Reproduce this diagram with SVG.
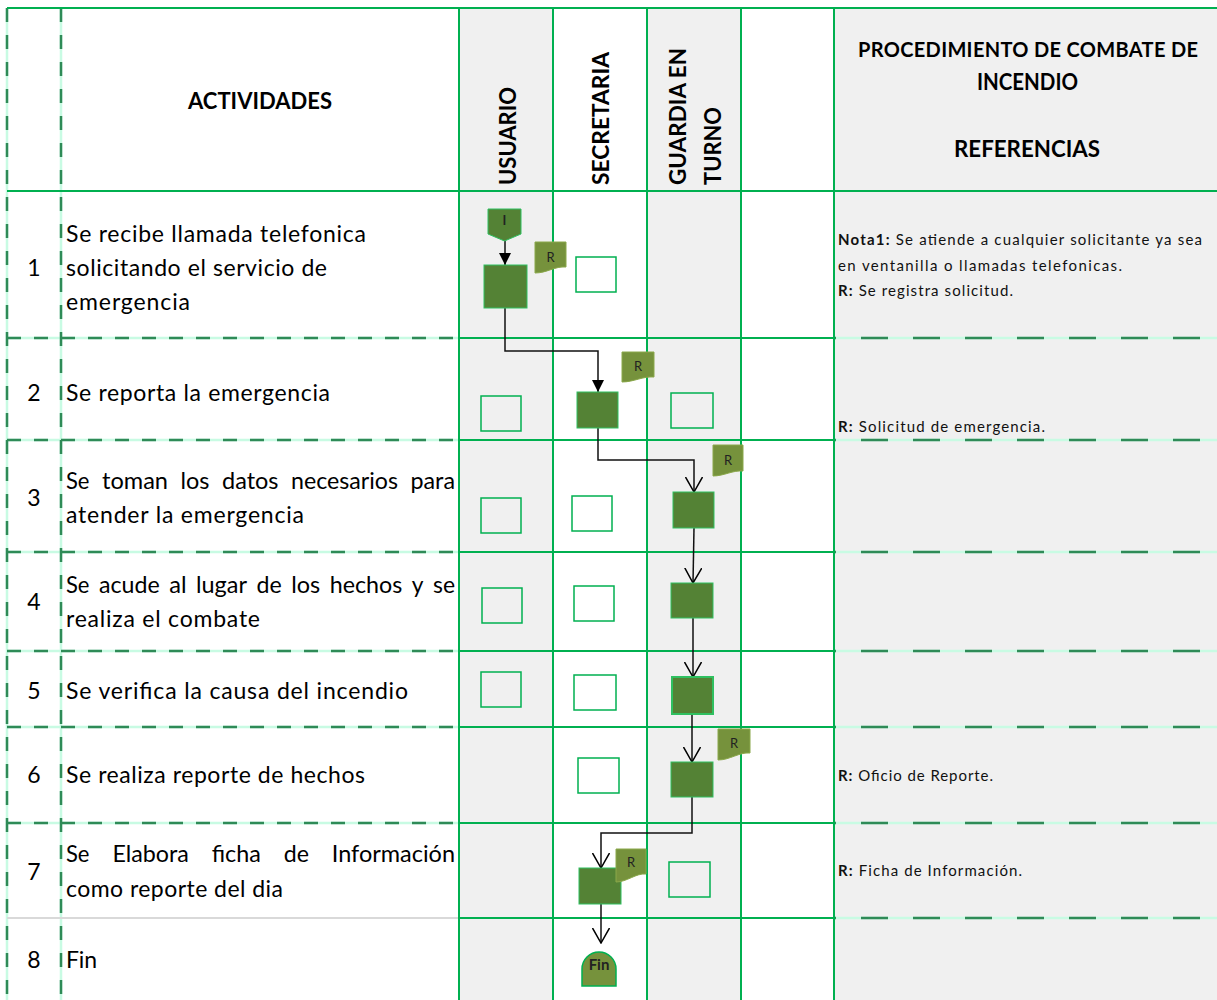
<svg xmlns="http://www.w3.org/2000/svg" width="1217" height="1000" viewBox="0 0 1217 1000">
<defs>
<style>
.g{stroke:#00b050;stroke-width:2;fill:none}
.mint{stroke:#c8fbe3;stroke-width:2.5;fill:none}
.dl{stroke:#2e8b57;stroke-width:2.5;stroke-dasharray:14 13;fill:none}
.dr{stroke:#2e8b57;stroke-width:2.5;stroke-dasharray:27 25;stroke-dashoffset:25;fill:none}
.t{font-family:Lato,"Liberation Sans",sans-serif;font-size:23px;fill:#000}
.h{font-family:Lato,"Liberation Sans",sans-serif;font-size:22.5px;font-weight:bold;fill:#000}
.r{font-family:Lato,"Liberation Sans",sans-serif;font-size:15px;fill:#111}
.b{font-weight:bold}
.proc{fill:#548235;stroke:#2fc060;stroke-width:1}
.empty{fill:none;stroke:#00b050;stroke-width:1.5}
.doc{fill:#76923c;stroke:#8aa84a;stroke-width:1}
.dt{font-family:Lato,"Liberation Sans",sans-serif;font-size:13px;fill:#222;text-anchor:middle}
.c{fill:none;stroke:#111;stroke-width:1.5}
</style>
<marker id="tri" markerUnits="userSpaceOnUse" viewBox="0 0 12 12" refX="12" refY="6" markerWidth="12" markerHeight="12" orient="auto"><path d="M0,0 L12,6 L0,12 Z" fill="#000"/></marker>
<marker id="vee" markerUnits="userSpaceOnUse" viewBox="0 0 16 18" refX="15" refY="9" markerWidth="16" markerHeight="18" orient="auto"><path d="M0,0.5 L15,9 L0,17.5" fill="none" stroke="#000" stroke-width="1.5"/></marker>
</defs>
<rect width="1217" height="1000" fill="#fff"/>
<g id="grid">
<rect x="459" y="8" width="94" height="992" fill="#f0f0f0"/>
<rect x="647" y="8" width="94" height="992" fill="#f0f0f0"/>
<rect x="834" y="8" width="383" height="992" fill="#f0f0f0"/>
<path class="mint" d="M7,338H459M7,440H459M7,552H459M7,651H459M7,727H459M7,823H459M834,338H1217M834,440H1217M834,552H1217M834,651H1217M834,727H1217M834,823H1217M834,918H1217M7,8V1000M61,8V1000"/>
<path class="dl" d="M7,338H459M7,440H459M7,552H459M7,651H459M7,727H459M7,823H459M7,8V1000M61,8V1000"/>
<path class="dr" d="M834,338H1217M834,440H1217M834,552H1217M834,651H1217M834,727H1217M834,823H1217M834,918H1217"/>
<path d="M7,918H459" stroke="#d9d9d9" stroke-width="2" fill="none"/>
<path class="g" d="M7,8H1217M7,191H1217M459,338H834M459,440H834M459,552H834M459,651H834M459,727H834M459,823H834M459,918H834M459,8V1000M553,8V1000M647,8V1000M741,8V1000M834,8V1000"/>
</g>
<g id="headers">
<text class="h" x="188" y="109" textLength="144" lengthAdjust="spacingAndGlyphs">ACTIVIDADES</text>
<text class="h" transform="translate(516,185) rotate(-90)" textLength="98" lengthAdjust="spacingAndGlyphs">USUARIO</text>
<text class="h" transform="translate(609,185) rotate(-90)" textLength="133" lengthAdjust="spacingAndGlyphs">SECRETARIA</text>
<text class="h" transform="translate(686,185) rotate(-90)" textLength="137" lengthAdjust="spacingAndGlyphs">GUARDIA EN</text>
<text class="h" transform="translate(721,185) rotate(-90)" textLength="78" lengthAdjust="spacingAndGlyphs">TURNO</text>
<text class="h" x="858" y="57" style="font-size:20px" textLength="340">PROCEDIMIENTO DE COMBATE DE</text>
<text class="h" x="977" y="90" textLength="101" lengthAdjust="spacingAndGlyphs">INCENDIO</text>
<text class="h" x="954" y="157" textLength="146" lengthAdjust="spacingAndGlyphs">REFERENCIAS</text>
</g>
<g id="activities">
<text class="t" x="34" y="276" text-anchor="middle">1</text>
<text class="t" x="66" y="242" textLength="300">Se recibe llamada telefonica</text>
<text class="t" x="66" y="276" textLength="261">solicitando el servicio de</text>
<text class="t" x="66" y="310" textLength="124">emergencia</text>
<text class="t" x="34" y="401" text-anchor="middle">2</text>
<text class="t" x="66" y="401" textLength="264">Se reporta la emergencia</text>
<text class="t" x="34" y="506" text-anchor="middle">3</text>
<text class="t" x="66" y="489" textLength="23.5" lengthAdjust="spacingAndGlyphs">Se</text>
<text class="t" x="102" y="489" textLength="66" lengthAdjust="spacingAndGlyphs">toman</text>
<text class="t" x="180.5" y="489" textLength="29" lengthAdjust="spacingAndGlyphs">los</text>
<text class="t" x="222" y="489" textLength="56.5" lengthAdjust="spacingAndGlyphs">datos</text>
<text class="t" x="291" y="489" textLength="107" lengthAdjust="spacingAndGlyphs">necesarios</text>
<text class="t" x="410.5" y="489" textLength="44.5" lengthAdjust="spacingAndGlyphs">para</text>
<text class="t" x="66" y="523" textLength="238">atender la emergencia</text>
<text class="t" x="34" y="610" text-anchor="middle">4</text>
<text class="t" x="66" y="593" textLength="23.5" lengthAdjust="spacingAndGlyphs">Se</text>
<text class="t" x="99" y="593" textLength="60.7" lengthAdjust="spacingAndGlyphs">acude</text>
<text class="t" x="169.2" y="593" textLength="17.3" lengthAdjust="spacingAndGlyphs">al</text>
<text class="t" x="196" y="593" textLength="51" lengthAdjust="spacingAndGlyphs">lugar</text>
<text class="t" x="256.5" y="593" textLength="25.2" lengthAdjust="spacingAndGlyphs">de</text>
<text class="t" x="291.2" y="593" textLength="29" lengthAdjust="spacingAndGlyphs">los</text>
<text class="t" x="329.7" y="593" textLength="72.6" lengthAdjust="spacingAndGlyphs">hechos</text>
<text class="t" x="411.8" y="593" textLength="11.7" lengthAdjust="spacingAndGlyphs">y</text>
<text class="t" x="433" y="593" textLength="22" lengthAdjust="spacingAndGlyphs">se</text>
<text class="t" x="66" y="627" textLength="194">realiza el combate</text>
<text class="t" x="34" y="699" text-anchor="middle">5</text>
<text class="t" x="66" y="699" textLength="342">Se verifica la causa del incendio</text>
<text class="t" x="34" y="783" text-anchor="middle">6</text>
<text class="t" x="66" y="783" textLength="299">Se realiza reporte de hechos</text>
<text class="t" x="34" y="880" text-anchor="middle">7</text>
<text class="t" x="66" y="862" textLength="23.5" lengthAdjust="spacingAndGlyphs">Se</text>
<text class="t" x="112.4" y="862" textLength="76.4" lengthAdjust="spacingAndGlyphs">Elabora</text>
<text class="t" x="211.7" y="862" textLength="49.1" lengthAdjust="spacingAndGlyphs">ficha</text>
<text class="t" x="283.7" y="862" textLength="25.2" lengthAdjust="spacingAndGlyphs">de</text>
<text class="t" x="331.8" y="862" textLength="123.2" lengthAdjust="spacingAndGlyphs">Información</text>
<text class="t" x="66" y="897" textLength="217">como reporte del dia</text>
<text class="t" x="34" y="968" text-anchor="middle">8</text>
<text class="t" x="66" y="968" textLength="31">Fin</text>
</g>
<g id="references">
<text class="r" x="838" y="245" textLength="364"><tspan class="b">Nota1:</tspan> Se atiende a cualquier solicitante ya sea</text>
<text class="r" x="838" y="271" textLength="284">en ventanilla o llamadas telefonicas.</text>
<text class="r" x="838" y="296" textLength="175"><tspan class="b">R:</tspan> Se registra solicitud.</text>
<text class="r" x="838" y="432" textLength="207"><tspan class="b">R:</tspan> Solicitud de emergencia.</text>
<text class="r" x="838" y="781" textLength="155"><tspan class="b">R:</tspan> Oficio de Reporte.</text>
<text class="r" x="838" y="876" textLength="184"><tspan class="b">R:</tspan> Ficha de Información.</text>
</g>
<g id="connectors">
<path class="c" d="M505,241V265" marker-end="url(#tri)"/>
<path class="c" d="M505,308V351H598V392" marker-end="url(#tri)"/>
<path class="c" d="M598,428V460H694V492" marker-end="url(#vee)"/>
<path class="c" d="M694,528L693,583" marker-end="url(#vee)"/>
<path class="c" d="M693,618V677" marker-end="url(#vee)"/>
<path class="c" d="M692,714V762" marker-end="url(#vee)"/>
<path class="c" d="M692,797V833H601V868" marker-end="url(#vee)"/>
<path class="c" d="M601,904V943" marker-end="url(#vee)"/>
</g>
<g id="start">
<path class="proc" d="M488,209H521V234L504.5,241L488,234Z"/>
<text class="dt b" x="504.5" y="225">I</text>
</g>
<g id="n1"><rect class="proc" x="484" y="265" width="43" height="43"/></g>
<g id="n2"><rect class="proc" x="577" y="392" width="41" height="36"/></g>
<g id="n3"><rect class="proc" x="673" y="492" width="41" height="36"/></g>
<g id="n4"><rect class="proc" x="671" y="583" width="42" height="35"/></g>
<g id="n5"><rect class="proc" x="672" y="677" width="41" height="37" style="stroke-width:2"/></g>
<g id="n6"><rect class="proc" x="671" y="762" width="42" height="35"/></g>
<g id="n7"><rect class="proc" x="579" y="868" width="42" height="36"/></g>
<g id="empties">
<rect class="empty" x="576" y="257" width="40" height="35"/>
<rect class="empty" x="481" y="396" width="40" height="35"/>
<rect class="empty" x="671" y="393" width="42" height="35"/>
<rect class="empty" x="481" y="498" width="40" height="35"/>
<rect class="empty" x="572" y="496" width="40" height="35"/>
<rect class="empty" x="482" y="588" width="40" height="35"/>
<rect class="empty" x="574" y="586" width="40" height="35"/>
<rect class="empty" x="481" y="672" width="40" height="35"/>
<rect class="empty" x="574" y="675" width="42" height="35"/>
<rect class="empty" x="578" y="758" width="41" height="35"/>
<rect class="empty" x="669" y="862" width="41" height="35"/>
</g>
<g id="r1"><path class="doc" d="M535,242H566V267C555,266 547,273 535,273Z"/><text class="dt" x="550.5" y="262">R</text></g>
<g id="r2"><path class="doc" d="M622,352H654V377C643,376 634,382 622,382Z"/><text class="dt" x="638" y="371">R</text></g>
<g id="r3"><path class="doc" d="M713,445H743V471C733,470 724,476 713,476Z"/><text class="dt" x="728" y="465">R</text></g>
<g id="r6"><path class="doc" d="M718,729H750V753C739,752 730,760 718,760Z"/><text class="dt" x="734" y="748">R</text></g>
<g id="r7"><path class="doc" d="M616,849H646V874C636,873 627,882 616,882Z"/><text class="dt" x="631" y="867">R</text></g>
<g id="fin">
<path d="M582,986V969A17,17 0 0 1 616,969V986Z" fill="#76923c" stroke="#00b050" stroke-width="1.5"/>
<text class="dt b" x="599" y="970" style="font-size:15px">Fin</text>
</g>
</svg>
